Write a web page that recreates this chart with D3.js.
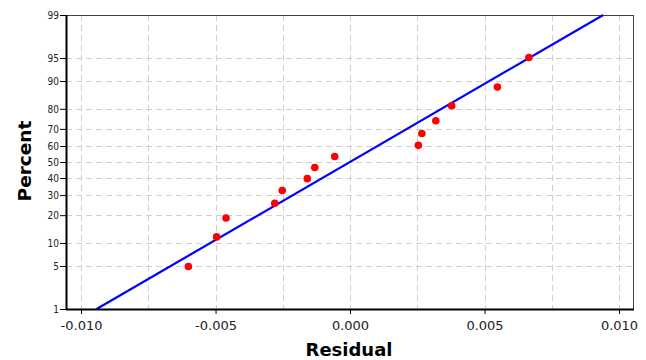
<!DOCTYPE html>
<html>
<head>
<meta charset="utf-8">
<script src="https://cdn.jsdelivr.net/npm/d3@7"></script>
<style>
  html, body { margin: 0; padding: 0; background: #fff; }
  svg { display: block; }
</style>
</head>
<body>
<svg id="chart" width="646" height="360"></svg>
<script>
// ---- data ----
const residuals = [-0.00601, -0.00496, -0.00461, -0.00280, -0.00252, -0.00159, -0.00131,
                   -0.00057, 0.00254, 0.00267, 0.00319, 0.00378, 0.00548, 0.00665];
const percents  = [4.9, 11.8, 18.8, 25.7, 32.6, 39.6, 46.5, 53.5, 60.4, 67.4, 74.3, 81.3, 88.2, 95.1];
const yTickValues = [1, 5, 10, 20, 30, 40, 50, 60, 70, 80, 90, 95, 99];
const xTickValues = [-0.010, -0.005, 0.000, 0.005, 0.010];
const xGridValues = [-0.0100, -0.0075, -0.0050, -0.0025, 0.0000, 0.0025, 0.0050, 0.0075, 0.0100];
const xDomain = [-0.01056, 0.01052];
const xLabel = "Residual";
const yLabel = "Percent";

// inverse standard normal CDF (Acklam)
function probit(p) {
  const a = [-3.969683028665376e+01, 2.209460984245205e+02, -2.759285104469687e+02, 1.383577518672690e+02, -3.066479806614716e+01, 2.506628277459239e+00];
  const b = [-5.447609879822406e+01, 1.615858368580409e+02, -1.556989798598866e+02, 6.680131188771972e+01, -1.328068155288572e+01];
  const c = [-7.784894002430293e-03, -3.223964580411365e-01, -2.400758277161838e+00, -2.549732539343734e+00, 4.374664141464968e+00, 2.938163982698783e+00];
  const d = [7.784695709041462e-03, 3.224671290700398e-01, 2.445134137142996e+00, 3.754408661907416e+00];
  const pl = 0.02425, ph = 1 - pl;
  let q, r;
  if (p < pl) {
    q = Math.sqrt(-2 * Math.log(p));
    return (((((c[0]*q+c[1])*q+c[2])*q+c[3])*q+c[4])*q+c[5]) / ((((d[0]*q+d[1])*q+d[2])*q+d[3])*q+1);
  } else if (p <= ph) {
    q = p - 0.5; r = q*q;
    return (((((a[0]*r+a[1])*r+a[2])*r+a[3])*r+a[4])*r+a[5])*q / (((((b[0]*r+b[1])*r+b[2])*r+b[3])*r+b[4])*r+1);
  } else {
    q = Math.sqrt(-2 * Math.log(1 - p));
    return -(((((c[0]*q+c[1])*q+c[2])*q+c[3])*q+c[4])*q+c[5]) / ((((d[0]*q+d[1])*q+d[2])*q+d[3])*q+1);
  }
}

const svg = d3.select("#chart");
const L = 66, R = 633, T = 15, B = 309;

const x = d3.scaleLinear().domain(xDomain).range([L, R]);
const zScale = d3.scaleLinear().domain([probit(0.01), probit(0.99)]).range([B, T]);
const y = pct => zScale(probit(pct / 100));

// grid
const grid = svg.append("g").attr("stroke", "#cfcfcf").attr("stroke-width", 1).attr("stroke-dasharray", "6,4");
grid.selectAll("line.h").data(yTickValues.filter(v => v !== 1 && v !== 99)).join("line")
  .attr("x1", L).attr("x2", R)
  .attr("y1", d => Math.round(y(d)) + 0.5).attr("y2", d => Math.round(y(d)) + 0.5);
grid.selectAll("line.v").data(xGridValues).join("line")
  .attr("y1", T).attr("y2", B)
  .attr("x1", d => Math.round(x(d)) + 0.5).attr("x2", d => Math.round(x(d)) + 0.5);

// frame
svg.append("rect").attr("x", L + 0.5).attr("y", T + 0.5).attr("width", R - L).attr("height", B - T)
  .attr("fill", "none").attr("stroke", "#404040").attr("stroke-width", 1);

// fitted line (mean and sd of residuals)
const mu = d3.mean(residuals), sd = d3.deviation(residuals);
const pLine = [0.01, 0.99];
svg.append("line")
  .attr("x1", x(mu + sd * probit(pLine[0]))).attr("y1", zScale(probit(pLine[0])))
  .attr("x2", x(mu + sd * probit(pLine[1]))).attr("y2", zScale(probit(pLine[1])))
  .attr("stroke", "#0000ff").attr("stroke-width", 2.2);

// points
svg.append("g").selectAll("circle").data(residuals).join("circle")
  .attr("cx", d => x(d)).attr("cy", (d, i) => y(percents[i]))
  .attr("r", 3.8).attr("fill", "#ff0000");

// axes
const xAxis = d3.axisBottom(x).tickValues(xTickValues).tickFormat(d3.format(".3f")).tickSize(5).tickSizeOuter(0);
const gx = svg.append("g").attr("transform", `translate(0,${B})`).call(xAxis);
gx.select(".domain").attr("d", `M${L},0.5H${R + 1}`).attr("stroke", "#000").attr("stroke-width", 2);
gx.selectAll(".tick line").attr("stroke", "#000");
gx.selectAll("text").attr("font-family", "'DejaVu Sans', sans-serif").attr("font-size", 13)
  .attr("fill", "#222").attr("dy", "1.0em")
  .text(d => d3.format(".3f")(d).replace("−", "-"));

const yAxis = d3.axisLeft(zScale).tickValues(yTickValues.map(v => probit(v / 100)))
  .tickFormat((d, i) => yTickValues[i]).tickSize(6).tickSizeOuter(0);
const gy = svg.append("g").attr("transform", `translate(${L},0)`).call(yAxis);
gy.select(".domain").attr("d", `M0.5,${T}V${B + 1}`).attr("stroke", "#000").attr("stroke-width", 2);
gy.selectAll(".tick line").attr("stroke", "#000");
gy.selectAll("text").attr("font-family", "'DejaVu Sans Condensed', 'DejaVu Sans', sans-serif")
  .attr("font-size", 10).attr("fill", "#222").attr("x", -7);

// axis titles
svg.append("text").attr("x", 349).attr("y", 356).attr("text-anchor", "middle")
  .attr("font-family", "'DejaVu Sans', sans-serif").attr("font-weight", "bold").attr("font-size", 18)
  .attr("fill", "#000").text(xLabel);
svg.append("text").attr("transform", "translate(31,161) rotate(-90)").attr("text-anchor", "middle")
  .attr("font-family", "'DejaVu Sans', sans-serif").attr("font-weight", "bold").attr("font-size", 18.5)
  .attr("fill", "#000").text(yLabel);
</script>
</body>
</html>
